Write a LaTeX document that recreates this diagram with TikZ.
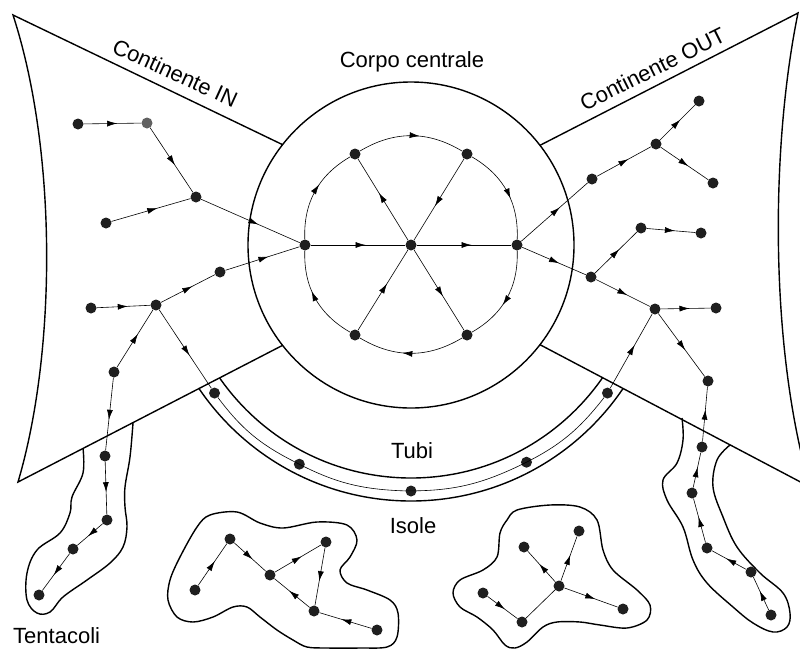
\documentclass[tikz,border=0pt]{standalone}
\usepackage{fontspec}
\setmainfont{Liberation Sans}
\usetikzlibrary{arrows.meta,decorations.markings,calc}

\begin{document}
\begin{tikzpicture}[x=1pt,y=-1pt,
  vert/.style={circle, fill=black!88, inner sep=0pt, minimum size=11pt},
  link/.style={line width=0.6pt},
  flow/.style={link, decoration={markings,
      mark=at position 0.58 with {\arrow{Latex[length=10pt,width=6pt]}}},
      postaction={decorate}},
  rim/.style={line width=1.4pt},
  lbl/.style={font=\fontsize{22}{26}\selectfont, inner sep=0pt}]
\useasboundingbox (0,0) rectangle (800,649);

% ---------- central body and the two continents ----------
\coordinate (O) at (411,245);
\draw[rim] (O) circle[radius=163];
\coordinate (inT)  at ($(O)+(218:163)$);
\coordinate (inB)  at ($(O)+(142:163)$);
\coordinate (outT) at ($(O)+(-37.7:163)$);
\coordinate (outB) at ($(O)+(37.7:163)$);
\draw[rim] (inT) -- (13,15) .. controls (57,150) and (57,350) .. (18,482) -- (inB);
\begin{scope}
  \clip (0,0) rectangle (800,649);
  \draw[rim] (outT) -- (798,13) .. controls (770,150) and (770,350) .. (810,487) -- (outB);
\end{scope}

% ---------- tube walls, cut off by the continents ----------
\begin{scope}
  \clip (0,491.3) -- (413.3,277.9) -- (810,487) -- (810,700) -- (0,700) -- cycle;
  \draw[rim] (O) circle[radius=233];
  \draw[rim] (O) circle[radius=256];
\end{scope}

% ---------- tentacles ----------
\draw[rim] plot[smooth, tension=0.6] coordinates {
  (83,448) (83,473) (72,497) (70,513) (60,533) (37,550) (27,573) (27,600)
  (37,613) (50,612) (63,597) (87,580) (110,563) (123,547) (127,527)
  (125,507) (125,487) (130,457) (133,423)};
\draw[rim] plot[smooth, tension=0.6] coordinates {
  (682,418) (683,440) (677,463) (663,480) (667,500) (683,527) (693,560)
  (707,583) (733,607) (753,623) (773,632) (787,627) (790,613) (783,593)
  (760,573) (737,547) (723,517) (713,487) (717,460) (730,445)};

% ---------- islands ----------
\draw[rim] plot[smooth cycle, tension=0.55] coordinates {
  (197,527) (210,515) (237,512) (260,523) (283,528) (317,522) (347,525)
  (357,540) (350,557) (340,570) (347,583) (367,590) (390,600) (398,613)
  (397,637) (387,647) (360,648) (327,648) (307,647) (293,640) (277,630)
  (260,617) (247,607) (233,607) (213,617) (193,622) (177,617) (168,600)
  (170,580) (180,557)};
\draw[rim] plot[smooth cycle, tension=0.55] coordinates {
  (507,520) (517,510) (550,505) (580,507) (597,520) (603,550) (613,570)
  (637,590) (650,605) (647,620) (627,628) (600,625) (580,622) (557,622)
  (543,627) (527,642) (515,648) (505,645) (493,630) (477,617) (460,607)
  (453,593) (460,580) (483,570) (497,557) (500,533)};

% ---------- vertices ----------
% strongly connected core
\node[vert] (C)  at (411,245) {};
\node[vert] (L)  at (305,245) {};
\node[vert] (R)  at (517,245) {};
\node[vert] (TL) at (355,154) {};
\node[vert] (TR) at (467,154) {};
\node[vert] (BL) at (355,335) {};
\node[vert] (BR) at (467,335) {};
% in-continent
\node[vert] (a1) at (78,124) {};
\node[vert, fill=black!62] (a2) at (147,123) {};
\node[vert] (a3) at (196,197) {};
\node[vert] (a4) at (106,223) {};
\node[vert] (a5) at (220,272) {};
\node[vert] (a6) at (91,308) {};
\node[vert] (a7) at (156,305) {};
% left tentacle
\node[vert] (t1) at (114,372) {};
\node[vert] (t2) at (105,456) {};
\node[vert] (t3) at (107,520) {};
\node[vert] (t4) at (73,549) {};
\node[vert] (t5) at (39,595) {};
% tube
\node[vert] (p1) at ($(O)+(143:246)$) {};
\node[vert] (p2) at ($(O)+(117:246)$) {};
\node[vert] (p3) at ($(O)+(90:246)$) {};
\node[vert] (p4) at ($(O)+(62:246)$) {};
\node[vert] (p5) at ($(O)+(37:246)$) {};
% out-continent
\node[vert] (b1) at (592,179) {};
\node[vert] (b2) at (656,144) {};
\node[vert] (b3) at (699,101) {};
\node[vert] (b4) at (713,183) {};
\node[vert] (b5) at (591,277) {};
\node[vert] (b6) at (641,228) {};
\node[vert] (b7) at (701,233) {};
\node[vert] (b8) at (655,309) {};
\node[vert] (b9) at (716,308) {};
% right tentacle
\node[vert] (u1) at (708,381) {};
\node[vert] (u2) at (702,447) {};
\node[vert] (u3) at (692,493) {};
\node[vert] (u4) at (707,548) {};
\node[vert] (u5) at (751,572) {};
\node[vert] (u6) at (771,615) {};
% first island
\node[vert] (i1) at (195,590) {};
\node[vert] (i2) at (230,539) {};
\node[vert] (i3) at (270,575) {};
\node[vert] (i4) at (326,542) {};
\node[vert] (i5) at (314,611) {};
\node[vert] (i6) at (377,630) {};
% second island
\node[vert] (j1) at (483,593) {};
\node[vert] (j2) at (522,622) {};
\node[vert] (j3) at (559,586) {};
\node[vert] (j4) at (524,547) {};
\node[vert] (j5) at (579,531) {};
\node[vert] (j6) at (623,609) {};

% ---------- links ----------
% core ring (clockwise) and spokes
\draw[flow] (L)  to[bend left=31] (TL);
\draw[flow] (TL) to[bend left=31] (TR);
\draw[flow] (TR) to[bend left=31] (R);
\draw[flow] (R)  to[bend left=31] (BR);
\draw[flow] (BR) to[bend left=31] (BL);
\draw[flow] (BL) to[bend left=31] (L);
\draw[flow] (L) -- (C);
\draw[flow] (C) -- (R);
\draw[flow] (C) -- (TL);
\draw[flow] (TR) -- (C);
\draw[flow] (BL) -- (C);
\draw[flow] (C) -- (BR);
% in-continent
\draw[flow] (a1) -- (a2);
\draw[flow] (a2) -- (a3);
\draw[flow] (a4) -- (a3);
\draw[flow] (a3) -- (L);
\draw[flow] (a6) -- (a7);
\draw[flow] (a7) -- (a5);
\draw[flow] (a5) -- (L);
\draw[flow] (a7) -- (p1);
% left tentacle
\draw[flow] (t1) -- (a7);
\draw[flow] (t1) -- (t2);
\draw[flow] (t2) -- (t3);
\draw[flow] (t3) -- (t4);
\draw[flow] (t4) -- (t5);
% tube
\draw[link] (p1) to[bend right=13] (p2) to[bend right=13] (p3)
               to[bend right=13] (p4) to[bend right=13] (p5);
\draw[flow] (p5) -- (b8);
% out-continent
\draw[flow] (R)  -- (b1);
\draw[flow] (b1) -- (b2);
\draw[flow] (b2) -- (b3);
\draw[flow] (b2) -- (b4);
\draw[flow] (R)  -- (b5);
\draw[flow] (b5) -- (b6);
\draw[flow] (b6) -- (b7);
\draw[flow] (b5) -- (b8);
\draw[flow] (b8) -- (b9);
% right tentacle
\draw[flow] (b8) -- (u1);
\draw[flow] (u2) -- (u1);
\draw[flow] (u3) -- (u2);
\draw[flow] (u4) -- (u3);
\draw[flow] (u5) -- (u4);
\draw[flow] (u6) -- (u5);
% first island
\draw[flow] (i1) -- (i2);
\draw[flow] (i2) -- (i3);
\draw[flow] (i3) -- (i4);
\draw[flow] (i4) -- (i5);
\draw[flow] (i5) -- (i3);
\draw[flow] (i6) -- (i5);
% second island
\draw[flow] (j1) -- (j2);
\draw[link] (j2) -- (j3);
\draw[flow] (j3) -- (j4);
\draw[flow] (j3) -- (j5);
\draw[flow] (j3) -- (j6);

% ---------- labels ----------
\node[lbl, anchor=base] (corpo) at (412,67) {Corpo centrale};
\node[lbl, anchor=base] (tubi) at (412,458) {Tubi};
\node[lbl, anchor=base] (isole) at (413,533) {Isole};
\node[lbl, anchor=base west] (tent) at (13,643) {Tentacoli};
\node[lbl, anchor=base, rotate=-24.5] (cin) at (172,80) {Continente IN};
\node[lbl, anchor=base, rotate=26.5] (cout) at (656,76) {Continente OUT};
\end{tikzpicture}
\end{document}
